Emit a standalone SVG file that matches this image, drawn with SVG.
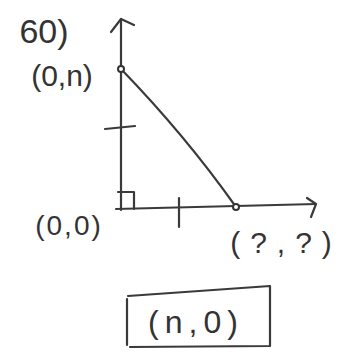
<svg xmlns="http://www.w3.org/2000/svg" width="348" height="354" viewBox="0 0 348 354">
<style>
.ln{fill:none;stroke:#3a3a3a;stroke-width:2.2;stroke-linecap:round;stroke-linejoin:round}
.t{font-family:"Liberation Sans",Arial,sans-serif;fill:#333;font-weight:normal}
.pt{fill:#fff;stroke:#333;stroke-width:2}
</style>
<rect width="348" height="354" fill="#fff"/>
<g id="connectors">
<path class="ln" d="M121 210 L121 19"/>
<path class="ln" d="M111 32 L121 19 L134 25"/>
<path class="ln" d="M116 209 L316 204"/>
<path class="ln" d="M307 198 L316 204 L311 217"/>
<path class="ln" d="M121 69 Q185 135 236 207"/>
<path class="ln" d="M105 129 L135 126"/>
<path class="ln" d="M179 198 L179 227"/>
<path class="ln" d="M118 192 L134 192 L134 209"/>
</g>
<g id="label-60"><text class="t" x="44" y="43" font-size="34" text-anchor="middle">60)</text></g>
<g id="node-0n"><circle class="pt" cx="121" cy="69" r="3"/><text class="t" x="62" y="86" font-size="30" text-anchor="middle">(0,n)</text></g>
<g id="node-00"><text class="t" x="69" y="235" font-size="28" text-anchor="middle" letter-spacing="2">(0,0)</text></g>
<g id="node-qq"><circle class="pt" cx="236" cy="207" r="3"/><text class="t" x="286" y="253" font-size="30" text-anchor="middle" letter-spacing="10">(?,?)</text></g>
<g id="answer"><path class="ln" d="M127 299 L127 345 M128 296 L270 286 L270 346 L130 347"/><text class="t" x="196" y="333" font-size="32" text-anchor="middle" letter-spacing="6">(n,0)</text></g>
</svg>
